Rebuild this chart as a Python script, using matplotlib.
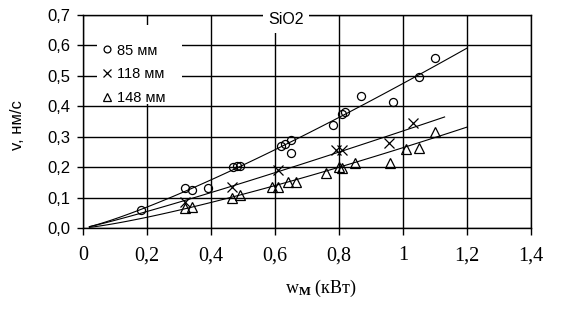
import matplotlib
matplotlib.use("Agg")
import matplotlib.pyplot as plt
from matplotlib.patches import Rectangle
import numpy as np

# ---- data ----
x85 = [0.18, 0.32, 0.34, 0.39, 0.47, 0.48, 0.49, 0.62, 0.63, 0.65, 0.65, 0.78, 0.81, 0.82, 0.87, 0.97, 1.05, 1.10]
y85 = [0.06, 0.13, 0.125, 0.13, 0.20, 0.205, 0.205, 0.27, 0.275, 0.29, 0.245, 0.34, 0.375, 0.38, 0.435, 0.415, 0.495, 0.56]

x118 = [0.32, 0.465, 0.61, 0.79, 0.81, 0.955, 1.03]
y118 = [0.085, 0.135, 0.19, 0.255, 0.255, 0.28, 0.345]

x148 = [0.32, 0.34, 0.465, 0.49, 0.59, 0.61, 0.64, 0.665, 0.76, 0.80, 0.81, 0.85, 0.96, 1.01, 1.05, 1.10]
y148 = [0.065, 0.07, 0.098, 0.11, 0.135, 0.135, 0.152, 0.152, 0.18, 0.20, 0.196, 0.215, 0.213, 0.26, 0.262, 0.315]

# power-law trend lines y = a * x**b, drawn from x0 to xend
fit_a = [0.475, 0.319, 0.264]
fit_b = [1.20, 1.10, 1.25]
fit_x0 = [0.02, 0.02, 0.02]
fit_xend = [1.2, 1.13, 1.2]

series_labels = ["85 мм", "118 мм", "148 мм"]
xticks = [0, 0.2, 0.4, 0.6, 0.8, 1.0, 1.2, 1.4]
xtick_labels = ["0", "0,2", "0,4", "0,6", "0,8", "1", "1,2", "1,4"]
yticks = [0, 0.1, 0.2, 0.3, 0.4, 0.5, 0.6, 0.7]
ytick_labels = ["0,0", "0,1", "0,2", "0,3", "0,4", "0,5", "0,6", "0,7"]
title = "SiO2"
xlabel = r"w$_{\mathbf{M}}$ (кВт)"
ylabel = "v, нм/с"

plt.rcParams['mathtext.fontset'] = 'custom'
plt.rcParams['mathtext.rm'] = 'Liberation Serif'
plt.rcParams['mathtext.bf'] = 'Liberation Serif:bold'
plt.rcParams['mathtext.it'] = 'Liberation Serif:italic'

W, H = 571, 329
fig = plt.figure(figsize=(W / 100, H / 100), dpi=100)
L, R, T, B = 83, 531, 15, 228
ax = fig.add_axes([L / W, 1 - B / H, (R - L) / W, (B - T) / H])
ax.set_xlim(0, 1.4)
ax.set_ylim(0, 0.7)

ax.set_axisbelow(True)
ax.grid(True, color='black', linewidth=1.0)
for s in ax.spines.values():
    s.set_linewidth(1.0)

ax.set_xticks(xticks)
ax.set_xticklabels(xtick_labels, fontfamily='Liberation Serif', fontsize=14.5)
ax.set_yticks(yticks)
ax.set_yticklabels(ytick_labels, fontfamily='Liberation Sans', fontsize=12)
ax.tick_params(axis='x', direction='out', length=5, width=1, pad=8)
ax.tick_params(axis='y', direction='out', length=4.3, width=1, pad=5)

mk = dict(linestyle='none', markerfacecolor='none', markeredgecolor='black', markeredgewidth=0.9, zorder=3)
ax.plot(x85, y85, marker='o', markersize=5.8, label=series_labels[0], **mk)
ax.plot(x118, y118, marker='x', markersize=6.5, label=series_labels[1], **mk)
ax.plot(x148, y148, marker='^', markersize=6.5, label=series_labels[2], **mk)

for a, b, x0, xe in zip(fit_a, fit_b, fit_x0, fit_xend):
    xs = np.linspace(x0, xe, 100)
    ax.plot(xs, a * xs ** b, color='black', linewidth=0.8, zorder=3)

# white backing for legend
ax.add_patch(Rectangle((0.031, 0.582), 0.19, 0.371, transform=ax.transAxes,
                       facecolor='white', edgecolor='none', zorder=4))
leg = ax.legend(loc='upper left', bbox_to_anchor=(0.0437, 0.866), frameon=False,
                prop={'family': 'Liberation Sans', 'size': 10.5}, handlelength=0.6,
                handletextpad=0.38, labelspacing=0.68, borderpad=0.0, borderaxespad=0.0,
                markerscale=0.85)
leg.set_zorder(5)

ax.text(0.634, 0.685, title, fontfamily='Liberation Sans', fontsize=11.5, ha='center', va='center',
        bbox=dict(boxstyle='square,pad=0.35', facecolor='white', edgecolor='none'),
        zorder=10, clip_on=False)

ax.set_xlabel(xlabel, fontfamily='Liberation Serif', fontsize=13)
ax.xaxis.set_label_coords(0.531, -0.235)
ax.set_ylabel(ylabel, fontfamily='Liberation Sans', fontsize=12)
ax.yaxis.set_label_coords(-0.13, 0.484)

fig.savefig('out.png', dpi=100)
